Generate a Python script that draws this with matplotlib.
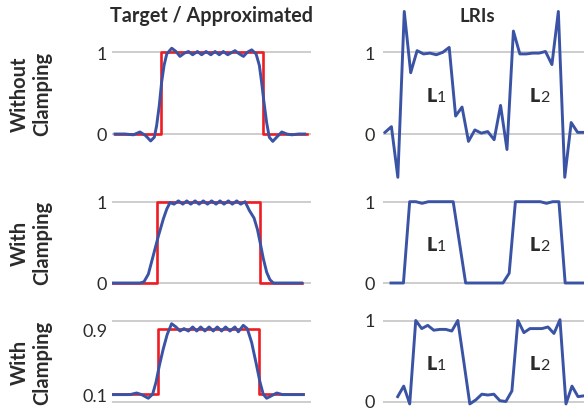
import matplotlib
matplotlib.use("Agg")
import matplotlib.pyplot as plt

plt.rcParams['font.family'] = ['Lato', 'DejaVu Sans']

# ---------------- data ----------------
col_titles = ["Target / Approximated", "LRIs"]
row_labels = ["Without\nClamping", "With\nClamping", "With\nClamping"]

# target step functions (t in 0..100)
target_edges = [[0, 24.0, 77.4, 100], [0, 23.7, 78.1, 100], [0, 23.3, 76.8, 100]]
target_levels = [[0, 1, 0, 0], [0, 1, 0, 0], [0.1, 0.9, 0.1, 0.1]]

# approximated curves
approx1_t = [0, 5.2, 9.6, 13, 16, 18.6, 20.5, 21.7, 23.1, 24.3, 25.6, 27, 29.6, 31.8, 33.9, 36.2,
             38.3, 40.5, 43, 45.2, 47.5, 50, 52.2, 54.4, 56.5, 58.8, 62.6, 64.9, 67, 69, 71.3,
             73.6, 75.3, 76.5, 77.7, 79.1, 80.5, 82.3, 84.3, 87, 89.6, 92.2, 95.7, 99]
approx1_y = [0, 0, -0.01, 0.025, -0.02, -0.085, -0.04, 0.1, 0.35, 0.63, 0.84, 0.98, 1.05, 1.01,
             0.95, 0.99, 1.01, 0.97, 1.01, 0.97, 1.01, 0.97, 1.01, 0.97, 1.01, 0.97, 1.02, 0.98,
             0.95, 1.0, 1.03, 0.98, 0.84, 0.63, 0.39, 0.14, -0.04, -0.09, -0.04, 0.025, 0, -0.01,
             0, 0]
approx2_t = [0, 14.9, 17, 19.3, 21.9, 24.6, 27.2, 29, 30.7, 32.8, 35.1, 37.4, 39.5, 41.6, 43.9,
             46, 48.2, 50.4, 52.6, 54.9, 57, 59.1, 61.4, 63.5, 65.8, 67.9, 70.2, 72.5, 74.9, 76.7,
             78.1, 79.8, 81.6, 83.3, 85.1, 100]
approx2_y = [0, 0, 0.015, 0.11, 0.34, 0.58, 0.79, 0.91, 0.99, 0.97, 1.01, 0.97, 1.01, 0.97, 1.01,
             0.97, 1.01, 0.97, 1.01, 0.97, 1.01, 0.97, 1.01, 0.97, 1.01, 0.97, 1.0, 0.89, 0.80,
             0.66, 0.5, 0.3, 0.13, 0.04, 0, 0]
approx3_t = [0, 8.8, 12.3, 14.9, 18.4, 20.7, 22.5, 24.2, 26.3, 28.4, 30.7, 33, 35.1, 37.2, 39.5,
             41.8, 43.9, 46, 48.2, 50.4, 52.6, 54.7, 57, 59.1, 61.4, 64, 65.8, 68.4, 70.5, 72.8,
             75.1, 77.2, 78.9, 80.7, 82.8, 86, 89.1, 100]
approx3_y = [0.095, 0.095, 0.115, 0.095, 0.05, 0.10, 0.25, 0.45, 0.66, 0.84, 0.97, 0.93, 0.88,
             0.91, 0.88, 0.93, 0.88, 0.93, 0.88, 0.93, 0.88, 0.93, 0.88, 0.93, 0.88, 0.93, 0.87,
             0.95, 0.91, 0.74, 0.49, 0.25, 0.10, 0.05, 0.075, 0.115, 0.095, 0.095]
approx_t = [approx1_t, approx2_t, approx3_t]
approx_y = [approx1_y, approx2_y, approx3_y]

# LRIs (32 samples each)
lri1 = [0.02, 0.09, -0.53, 1.5, 0.75, 1.02, 0.98, 0.99, 0.97, 1.0, 1.06, 0.22, 0.33, -0.09, 0.05,
        0.01, 0.03, -0.07, 0.35, -0.19, 1.26, 0.98, 0.98, 0.99, 0.99, 1.01, 0.85, 1.5, -0.53,
        0.14, 0.02, 0.02]
lri2 = [0, 0, 0, 1, 1, 0.98, 1, 1, 1, 1, 1, 0.5, 0, 0, 0, 0, 0, 0, 0, 0.12, 1, 1, 1, 1, 1,
        0.98, 1, 1, 0, 0, 0, 0]
lri3 = [0.07, 0.2, -0.02, 1.01, 0.91, 0.95, 0.89, 0.9, 0.9, 0.88, 1.01, 0.5, -0.02, 0.03, 0.1,
        0.09, 0.1, 0.02, 0.01, 0.14, 1.01, 0.86, 0.91, 0.91, 0.91, 0.93, 0.85, 1.02, -0.02, 0.2,
        0.07, 0.08]
lris = [lri1, lri2, lri3]

left_ticks = [[0, 1], [0, 1], [0.1, 0.9]]
left_ticklabels = [["0", "1"], ["0", "1"], ["0.1", "0.9"]]
right_ticks = [[0, 1], [0, 1], [0, 1]]
right_ticklabels = [["0", "1"], ["0", "1"], ["0", "1"]]
lri_names = [("L", "1"), ("L", "2")]

# ---------------- layout (pixels) ----------------
W, H = 584, 410
BLUE = "#3a53a4"
RED = "#ee1d23"
GRID = "#c9c9c9"
TXT = "#2b2b2b"

fig = plt.figure(figsize=(W / 100, H / 100), dpi=100)

# rows: (pixel of value 0, pixel of value 1, axes top px, axes bottom px)
rows_y = [(135.0, 53.3, 5, 185), (284.0, 202.7, 188, 296), (403.3, 322.3, 308, 410)]
LL, LR = 112, 311
left_x = [(115.0, 1.917), (111.7, 1.90), (113.3, 1.90)]
RL, RR = 383, 600
right_x = [(385.0, 6.42), (391.0, 6.22), (397.7, 6.01)]


def make_ax(L, R, T, B):
    return fig.add_axes([L / W, 1 - B / H, (R - L) / W, (B - T) / H])


def style(ax, ticks, labels, pad):
    for s in ax.spines.values():
        s.set_visible(False)
    ax.set_xticks([])
    ax.set_yticks(ticks)
    ax.set_yticklabels(labels)
    ax.tick_params(axis='y', length=0, pad=pad, labelsize=13, labelcolor=TXT)
    ax.axhline(0, color=GRID, lw=1.3, zorder=0)
    ax.axhline(1, color=GRID, lw=1.3, zorder=0)
    ax.patch.set_visible(False)


for i in range(3):
    p0, p1, T, B = rows_y[i]
    unit = p0 - p1
    ylim = ((p0 - B) / unit, (p0 - T) / unit)

    # left
    ax = make_ax(LL, LR, T, B)
    x0, s = left_x[i]
    ax.set_xlim((LL - x0) / s, (LR - x0) / s)
    ax.set_ylim(*ylim)
    style(ax, left_ticks[i], left_ticklabels[i], 3.5)
    ax.step(target_edges[i], target_levels[i], where='post', color=RED, lw=1.9, zorder=2)
    ax.plot(approx_t[i], approx_y[i], color=BLUE, lw=2.1, zorder=3)

    # right
    ax = make_ax(RL, RR, T, B)
    x0, s = right_x[i]
    ax.set_xlim((RL - x0) / s, (RR - x0) / s)
    ax.set_ylim(*ylim)
    style(ax, right_ticks[i], right_ticklabels[i], 6)
    ax.plot(range(len(lris[i])), lris[i], color=BLUE, lw=2.1, zorder=3)
    if i == 2:
        for lab in ax.get_yticklabels():
            lab.set_va('center')

    # L1 / L2 labels
    base = p0 - 0.41 * unit
    for (main, sub), xp in zip(lri_names, [426.5, 530.0]):
        fig.text(xp / W, 1 - base / H, main, fontsize=14, fontweight='heavy', color=TXT,
                 ha='left', va='baseline')
        fig.text((xp + 9.8) / W, 1 - base / H, sub, fontsize=11.5, color=TXT,
                 ha='left', va='baseline')

    # row label
    fig.text(31 / W, 1 - (p0 + p1) / 2 / H, row_labels[i], rotation=90, fontsize=14.5,
             fontweight='bold', color=TXT, ha='center', va='center', multialignment='center',
             linespacing=1.1)

fig.text(212 / W, 1 - 16 / H, col_titles[0], fontsize=14.2, fontweight='bold', color=TXT,
         ha='center', va='center')
fig.text(477 / W, 1 - 16 / H, col_titles[1], fontsize=13.5, fontweight='bold', color=TXT,
         ha='center', va='center')

fig.savefig("out.png", dpi=100)
